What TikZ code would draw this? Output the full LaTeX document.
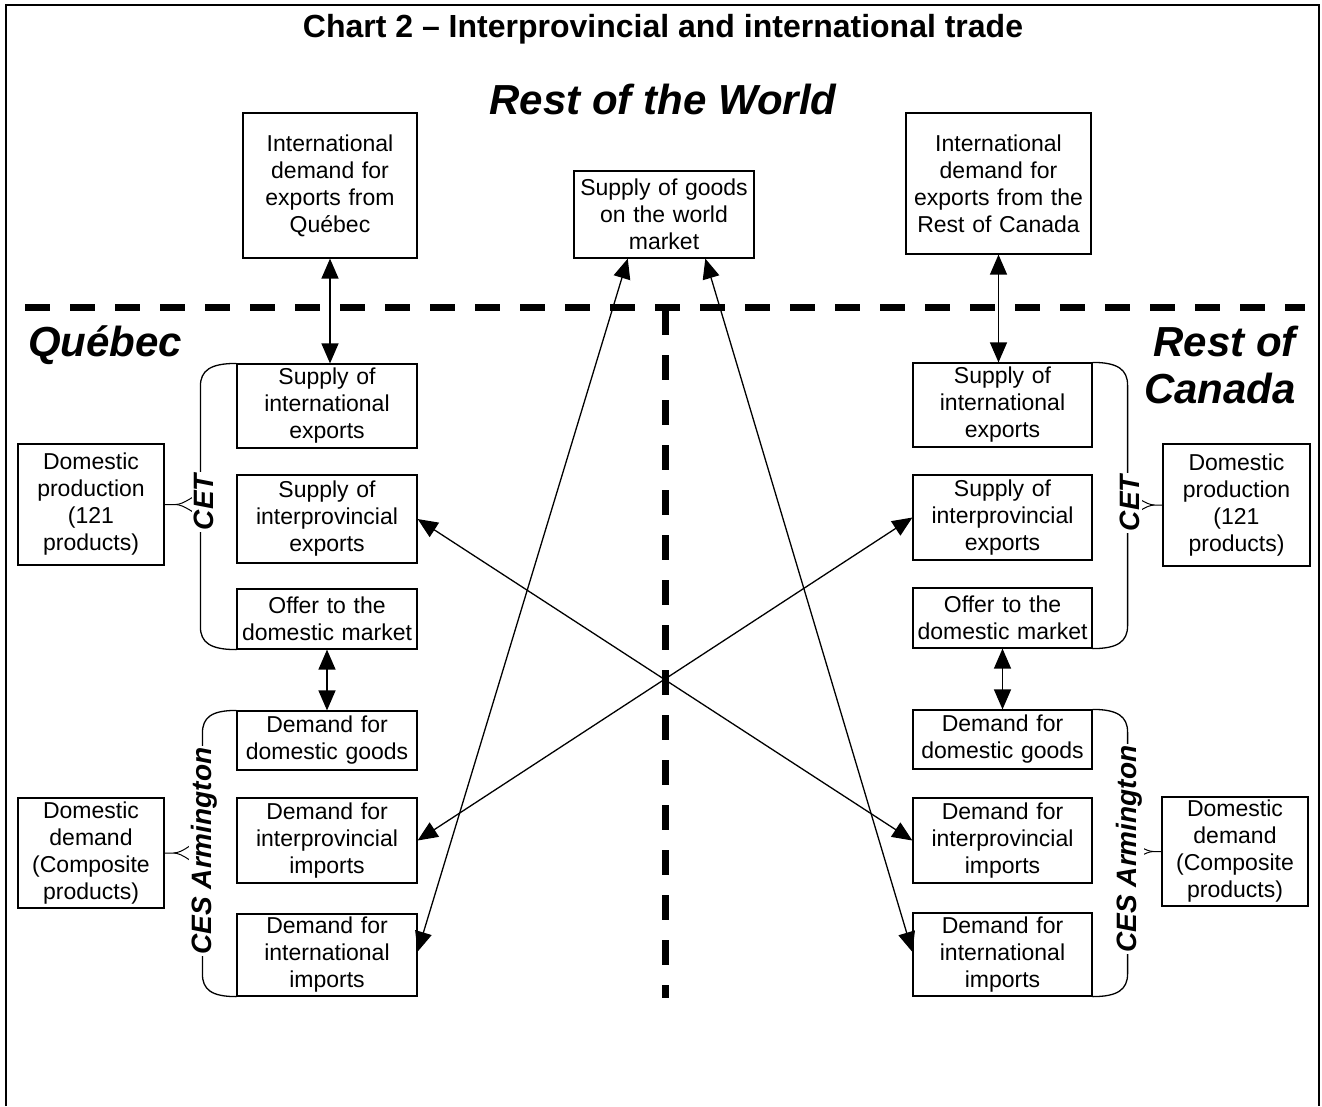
\documentclass[tikz,border=0pt]{standalone}
\usepackage{fontspec}
\setmainfont{Liberation Sans}
\usetikzlibrary{arrows.meta,calc}
\begin{document}
\begin{tikzpicture}[x=1pt,y=-1pt,
  box/.style={draw, line width=1.2pt, inner sep=0pt, align=center, font=\fontsize{23}{27}\selectfont},
  arr/.style={{Triangle[length=20pt,width=17pt]}-{Triangle[length=20pt,width=17pt]}, line width=1.3pt},
  brk/.style={line width=1.3pt},
  fork/.style={line width=1pt},
  rot/.style={rotate=90, fill=white, inner sep=2pt, font=\fontsize{28}{28}\selectfont\bfseries\itshape},
  region/.style={font=\fontsize{42}{47}\selectfont\bfseries\itshape, inner sep=0pt},
  divider/.style={line width=7pt, dash pattern=on 25pt off 20pt},
]
\useasboundingbox (0,0) rectangle (1322,1106);
% frame (open at the bottom)
\draw[line width=2.5pt] (6,1106) -- (6,5) -- (1319,5) -- (1319,1106);

% titles
\node[font=\fontsize{32}{32}\selectfont\bfseries, anchor=base, inner sep=0pt] (title) at (663,37) {Chart 2 – Interprovincial and international trade};
\node[region, anchor=base] (row) at (663,114) {Rest of the World};
\node[region, anchor=base west] (queb) at (28,356) {Québec};
\node[region, anchor=base east] (roc1) at (1296,356) {Rest of};
\node[region, anchor=base east] (roc2) at (1296,403) {Canada};

% dividers
\coordinate (hl) at (25,307);
\coordinate (hr) at (1305,307);
\coordinate (vt) at (665,310);
\coordinate (vb) at (665,998);
\draw[divider] (hl) -- (hr);
\draw[divider] (vt) -- (vb);

% rest of the world boxes
\node[box, minimum width=174pt, minimum height=145pt, text width=170pt] (qid) at (330,185.5) {International\\demand for\\exports from\\Québec};
\node[box, minimum width=180pt, minimum height=87pt, text width=176pt] (wsup) at (664,214.5) {Supply of goods\\on the world\\market};
\node[box, minimum width=185pt, minimum height=141pt, text width=181pt] (rid) at (998.5,183.5) {International\\demand for\\exports from the\\Rest of Canada};

% Quebec column
\node[box, minimum width=180pt, minimum height=84pt, text width=176pt] (qsie) at (327,406) {Supply of\\international\\exports};
\node[box, minimum width=180pt, minimum height=88pt, text width=176pt] (qsip) at (327,519) {Supply of\\interprovincial\\exports};
\node[box, minimum width=180pt, minimum height=60pt, text width=178pt] (qoff) at (327,619) {Offer to the\\domestic market};
\node[box, minimum width=180pt, minimum height=59pt, text width=176pt] (qddg) at (327,740.5) {Demand for\\domestic goods};
\node[box, minimum width=180pt, minimum height=85pt, text width=176pt] (qdip) at (327,840.5) {Demand for\\interprovincial\\imports};
\node[box, minimum width=180pt, minimum height=82pt, text width=176pt] (qdii) at (327,955) {Demand for\\international\\imports};
\node[box, minimum width=146pt, minimum height=121pt, text width=142pt] (qdp) at (91,504.5) {Domestic\\production\\(121\\products)};
\node[box, minimum width=146pt, minimum height=110pt, text width=142pt] (qdd) at (91,853) {Domestic\\demand\\(Composite\\products)};

% Rest of Canada column
\node[box, minimum width=179pt, minimum height=84pt, text width=175pt] (rsie) at (1002.5,405) {Supply of\\international\\exports};
\node[box, minimum width=179pt, minimum height=85pt, text width=175pt] (rsip) at (1002.5,517.5) {Supply of\\interprovincial\\exports};
\node[box, minimum width=179pt, minimum height=60pt, text width=177pt] (roff) at (1002.5,618) {Offer to the\\domestic market};
\node[box, minimum width=179pt, minimum height=59pt, text width=175pt] (rddg) at (1002.5,739.5) {Demand for\\domestic goods};
\node[box, minimum width=179pt, minimum height=85pt, text width=175pt] (rdip) at (1002.5,840.5) {Demand for\\interprovincial\\imports};
\node[box, minimum width=179pt, minimum height=83pt, text width=175pt] (rdii) at (1002.5,954.5) {Demand for\\international\\imports};
\node[box, minimum width=147pt, minimum height=122pt, text width=143pt] (rdp) at (1236.5,505) {Domestic\\production\\(121\\products)};
\node[box, minimum width=146pt, minimum height=109pt, text width=142pt] (rdd) at (1235,851.5) {Domestic\\demand\\(Composite\\products)};

% brackets
\draw[brk] (qsie.north west) .. controls +(-26,0) and +(0,-16) .. ($(qsie.north west)+(-36,23)$)
  -- ($(qoff.south west)+(-36,-23)$) .. controls +(0,16) and +(-26,0) .. (qoff.south west);
\draw[brk] (qddg.north west) .. controls +(-25,0) and +(0,-16) .. ($(qddg.north west)+(-34,23)$)
  -- ($(qdii.south west)+(-34,-23)$) .. controls +(0,16) and +(-25,0) .. (qdii.south west);
\draw[brk] (rsie.north east) .. controls +(25,0) and +(0,-16) .. ($(rsie.north east)+(35,23)$)
  -- ($(roff.south east)+(35,-23)$) .. controls +(0,16) and +(25,0) .. (roff.south east);
\draw[brk] (rddg.north east) .. controls +(25,0) and +(0,-16) .. ($(rddg.north east)+(35,23)$)
  -- ($(rdii.south east)+(35,-23)$) .. controls +(0,16) and +(25,0) .. (rdii.south east);

% forks
\coordinate (qf1) at ($(qdp.east)+(11,0)$);
\draw[fork] (qdp.east) -- (qf1) .. controls +(8,0) and +(-7,4) .. ($(qf1)+(26,-13)$);
\draw[fork] (qf1) .. controls +(8,0) and +(-7,-4) .. ($(qf1)+(26,13)$);
\coordinate (qf2) at ($(qdd.east)+(9,0)$);
\draw[fork] (qdd.east) -- (qf2) .. controls +(9,0) and +(-7,5) .. ($(qf2)+(28,-16)$);
\draw[fork] (qf2) .. controls +(9,0) and +(-7,-5) .. ($(qf2)+(28,16)$);
\coordinate (rf1) at ($(rdp.west)+(-8,0)$);
\draw[fork] (rdp.west) -- (rf1) .. controls +(-8,0) and +(7,4) .. ($(rf1)+(-26,-13)$);
\draw[fork] (rf1) .. controls +(-8,0) and +(7,-4) .. ($(rf1)+(-26,13)$);
\coordinate (rf2) at ($(rdd.west)+(-8,0)$);
\draw[fork] (rdd.west) -- (rf2) .. controls +(-8,0) and +(7,5) .. ($(rf2)+(-27,-14)$);
\draw[fork] (rf2) .. controls +(-8,0) and +(7,-5) .. ($(rf2)+(-27,14)$);

% bracket labels
\node[rot] (qcet) at (204,502) {CET};
\node[rot] (qces) at (204,851) {CES Armington};
\node[rot] (rcet) at (1130,503) {CET};
\node[rot] (rces) at (1129,849) {CES Armington};

% vertical double arrows
\draw[arr] (qid.south) -- (qid.south |- qsie.north);
\draw[arr] (rid.south) -- (rid.south |- rsie.north);
\draw[arr] (qoff.south) -- (qddg.north);
\draw[arr] (roff.south) -- (rddg.north);

% long diagonal arrows
\draw[arr] ($(wsup.south west)!0.3!(wsup.south east)$) -- ($(qdii.north east)!0.46!(qdii.south east)$);
\draw[arr] ($(wsup.south west)!0.728!(wsup.south east)$) -- ($(rdii.north west)!0.47!(rdii.south west)$);

% crossing arrows
\draw[arr] (qsip.east) -- (rdip.west);
\draw[arr] (rsip.west) -- (qdip.east);
\end{tikzpicture}
\end{document}
